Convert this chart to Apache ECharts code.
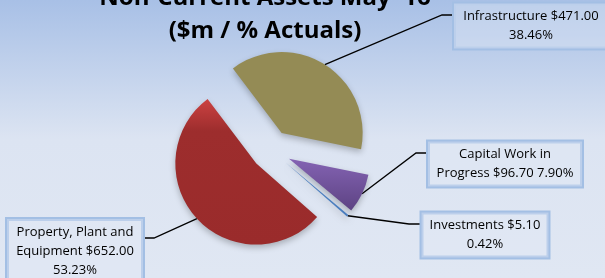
<!DOCTYPE html>
<html>
<head>
<meta charset="utf-8">
<script src="https://cdn.jsdelivr.net/npm/echarts@6/dist/echarts.min.js"></script>
<style>
  html, body { margin: 0; padding: 0; }
  #chart { width: 605px; height: 278px; }
</style>
</head>
<body>
<div id="chart"></div>
<script>
// data
var categories = ['Infrastructure', 'Capital Work in Progress', 'Investments', 'Property, Plant and Equipment'];
var values = [471.00, 96.70, 5.10, 652.00];
// how each label text is broken into lines (as in the original)
var labelNames = ['Infrastructure', 'Capital Work in\nProgress', 'Investments', 'Property, Plant and\nEquipment'];
var pctSep = ['\n', ' ', '\n', '\n'];
var titleText = "Non-Current Assets May '16\n($m / % Actuals)";

var sliceColors = [
    '#948b55',
    new echarts.graphic.LinearGradient(0, 0, 0, 1, [{offset: 0, color: '#8463b3'}, {offset: 1, color: '#5d4383'}]),
    '#4a7ebf',
    new echarts.graphic.LinearGradient(0, 0, 0, 1, [{offset: 0, color: '#cc4242'}, {offset: 0.22, color: '#9d2d2d'}, {offset: 1, color: '#9a2b2b'}])
];
// label boxes: center x, center y, width (text), and the elbow of the leader line
var boxes = [
    {cx: 531, cy: 26, w: 140, ex: 442, ey: 15, bx: 454},
    {cx: 505, cy: 164, w: 140, ex: 416, ey: 153, bx: 427},
    {cx: 485, cy: 235, w: 113, ex: 409, ey: 224, bx: 420},
    {cx: 75, cy: 251, w: 122, ex: 154, ey: 238, bx: 143}
];

var pieCenter = [271, 150];
var pieRadius = 81;
var startAngle = 127;   // echarts degrees, counter-clockwise from 3 o'clock
var explode = 20;

var total = 0;
for (var i in values) total += values[i];

var chart = echarts.init(document.getElementById('chart'));

// one pie per slice, each one pushed out along its own middle angle
var series = [];
var cum = 0;
for (var k = 0; k < values.length; k++) {
    var mid = (startAngle - (cum + values[k] / 2) / total * 360) * Math.PI / 180;
    cum += values[k];
    var data = [];
    for (var j = 0; j < values.length; j++) {
        if (j == k) {
            data.push({
                name: categories[j],
                value: values[j],
                itemStyle: {
                    color: sliceColors[j],
                    shadowBlur: 6,
                    shadowOffsetY: 3,
                    shadowColor: 'rgba(0,0,0,0.25)'
                }
            });
        } else {
            data.push({
                name: categories[j],
                value: values[j],
                itemStyle: {color: 'rgba(0,0,0,0)'},
                label: {show: false},
                labelLine: {show: false}
            });
        }
    }
    series.push({
        type: 'pie',
        center: [pieCenter[0] + explode * Math.cos(mid), pieCenter[1] - explode * Math.sin(mid)],
        radius: pieRadius,
        startAngle: startAngle,
        clockwise: true,
        avoidLabelOverlap: false,
        silent: true,
        emphasis: {disabled: true},
        label: {
            show: true,
            position: 'outside',
            fontFamily: 'Open Sans',
            fontSize: 13,
            lineHeight: 19,
            color: '#000',
            align: 'center',
            width: boxes[k].w,
            backgroundColor: 'rgba(226,233,245,0.4)',
            borderColor: '#a3bfe4',
            borderWidth: 2,
            padding: [4, 7, 3, 7],
            formatter: function(p){
                var i = p.dataIndex;
                var pct = (p.value / total * 100).toFixed(2);
                return labelNames[i] + ' $' + p.value.toFixed(2) + pctSep[i] + pct + '%';
            }
        },
        labelLine: {
            show: true,
            lineStyle: {color: '#000', width: 1.3}
        },
        labelLayout: function(params){
            if (!params.labelLinePoints) return {};
            var b = boxes[params.dataIndex];
            var p0 = params.labelLinePoints[0];
            return {
                x: b.cx,
                y: b.cy,
                align: 'center',
                verticalAlign: 'middle',
                labelLinePoints: [p0, [b.ex, b.ey], [b.bx, b.ey]]
            };
        },
        data: data
    });
}

var option = {
    animation: false,
    backgroundColor: new echarts.graphic.LinearGradient(0, 0, 0, 1, [
        {offset: 0, color: '#a8c0e6'},
        {offset: 0.5, color: '#dce4f2'},
        {offset: 1, color: '#e0e7f3'}
    ]),
    // title as a graphic text, its first line is cut by the top edge
    graphic: [{
        type: 'text',
        x: 265,
        y: 15,
        silent: true,
        style: {
            text: titleText,
            fontFamily: 'Open Sans',
            fontWeight: 'bold',
            fontSize: 24,
            lineHeight: 33,
            fill: '#000',
            align: 'center',
            verticalAlign: 'middle'
        }
    }],
    series: series
};

chart.setOption(option);
</script>
</body>
</html>
